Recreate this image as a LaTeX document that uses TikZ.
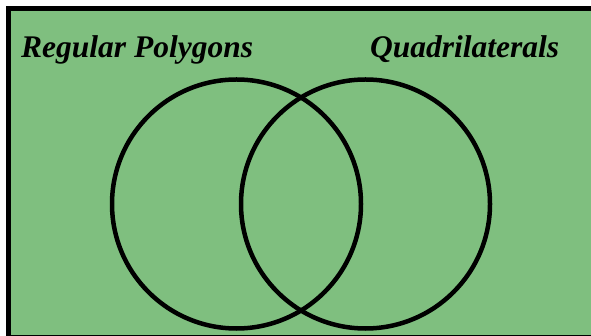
\documentclass[tikz,border=0pt]{standalone}
\usepackage{fontspec}
\setmainfont{Liberation Serif}
\definecolor{venngreen}{RGB}{127,191,127}
\begin{document}
\begin{tikzpicture}[x=1pt,y=-1pt,
  setcircle/.style={circle,draw=black,line width=4.5pt,minimum size=249pt,inner sep=0pt},
  setlabel/.style={font=\fontsize{31.5}{32}\selectfont\itshape\bfseries,inner sep=0pt,anchor=base west}]
\useasboundingbox (0,0) rectangle (591,336);
\begin{scope}
\clip (0,0) rectangle (591,336);
\draw[fill=venngreen,line width=5pt] (8,8.5) rectangle (640,337);
\end{scope}
\node[setcircle] (regular) at (236.5,204) {};
\node[setcircle] (quad) at (365.5,204) {};
\node[setlabel] (lreg) at (21,58) {Regular Polygons};
\node[setlabel] (lquad) at (370,58) {Quadrilaterals};
\end{tikzpicture}
\end{document}
